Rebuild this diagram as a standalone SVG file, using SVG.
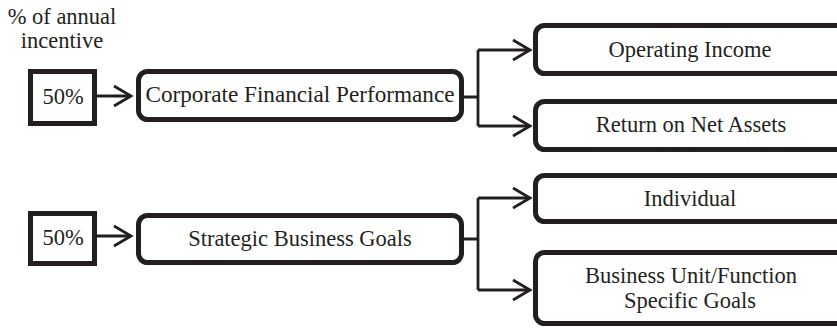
<svg xmlns="http://www.w3.org/2000/svg" width="837" height="328" viewBox="0 0 837 328">
  <style>
    text { font-family: "Liberation Serif", "Times New Roman", serif; font-size: 22.5px; fill: #231f20; text-anchor: middle; }
    .box { fill: #ffffff; stroke: #231f20; stroke-width: 5; }
    .conn { fill: none; stroke: #231f20; stroke-width: 2.8; stroke-linejoin: miter; }
    .head { fill: none; stroke: #231f20; stroke-width: 2.8; stroke-linejoin: miter; }
  </style>
  <rect width="837" height="328" fill="#ffffff"/>
  <g id="label">
    <text x="62" y="24">% of annual</text>
    <text x="62" y="48">incentive</text>
  </g>
  <g id="pct1">
    <rect class="box" x="30.5" y="71.5" width="64" height="52"/>
    <text x="63" y="104">50%</text>
  </g>
  <g id="pct2">
    <rect class="box" x="30.5" y="213.5" width="64" height="50"/>
    <text x="63" y="245">50%</text>
  </g>
  <g id="corporate">
    <rect class="box" x="138.5" y="71.5" width="323" height="48" rx="9"/>
    <text x="300" y="102" style="font-size:23.2px">Corporate Financial Performance</text>
  </g>
  <g id="strategic">
    <rect class="box" x="138.5" y="215.5" width="323" height="47" rx="9"/>
    <text x="300" y="246">Strategic Business Goals</text>
  </g>
  <g id="operating">
    <rect class="box" x="535.5" y="25.5" width="400" height="48" rx="9"/>
    <text x="690" y="57">Operating Income</text>
  </g>
  <g id="rona">
    <rect class="box" x="535.5" y="101.5" width="400" height="48" rx="9"/>
    <text x="691" y="132">Return on Net Assets</text>
  </g>
  <g id="individual">
    <rect class="box" x="535.5" y="175.5" width="400" height="46" rx="9"/>
    <text x="690" y="206">Individual</text>
  </g>
  <g id="business">
    <rect class="box" x="535.5" y="252.5" width="400" height="71" rx="9"/>
    <text x="691" y="283">Business Unit/Function</text>
    <text x="690" y="308">Specific Goals</text>
  </g>
  <g id="connectors">
    <path class="conn" d="M97,96 H131"/>
    <path class="head" d="M114,86 L131,96 L114,106"/>
    <path class="conn" d="M97,236 H131"/>
    <path class="head" d="M114,226 L131,236 L114,246"/>
    <path class="conn" d="M464,97 H478 M478,50 V126 M478,50 H530 M478,126 H530"/>
    <path class="head" d="M513,40 L530,50 L513,60"/>
    <path class="head" d="M513,116 L530,126 L513,136"/>
    <path class="conn" d="M464,239 H478 M478,198 V290 M478,198 H530 M478,290 H530"/>
    <path class="head" d="M513,188 L530,198 L513,208"/>
    <path class="head" d="M513,280 L530,290 L513,300"/>
  </g>
</svg>
